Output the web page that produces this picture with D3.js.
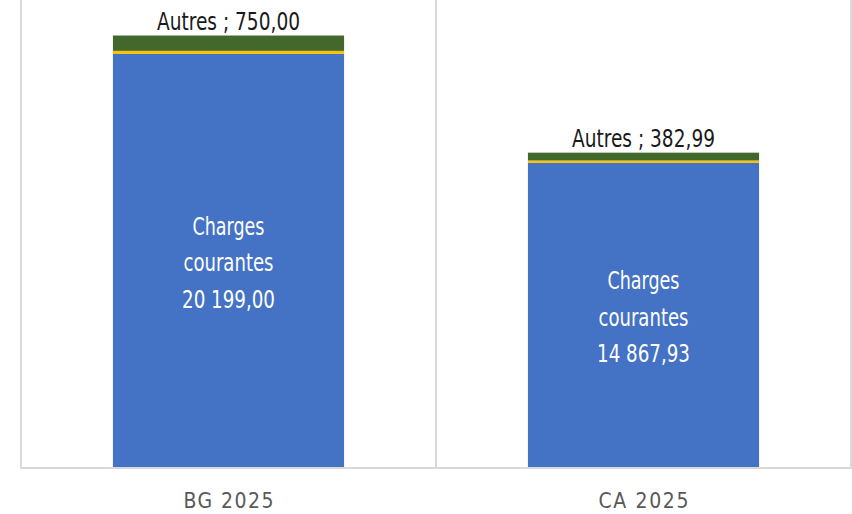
<!DOCTYPE html>
<html>
<head>
<meta charset="utf-8">
<script src="https://cdn.jsdelivr.net/npm/d3@7"></script>
<style>
  body { margin: 0; background: #fff; }
  svg text { font-family: 'Liberation Sans Narrow', 'DejaVu Sans Condensed', 'Liberation Sans', sans-serif; }
</style>
</head>
<body>
<svg class="chart-svg" width="852" height="514"></svg>
<script>
// chart values
const categories = ['BG 2025', 'CA 2025']
const seriesNames = ['Charges courantes', 'Divers', 'Autres']
const chargesCourantes = [20199.00, 14867.93]
const divers = [150, 120]
const autres = [750.00, 382.99]
const colors = ['#4472c4', '#ffc000', '#43682b']

const fmt = v => v.toLocaleString('fr-FR', { minimumFractionDigits: 2, maximumFractionDigits: 2 }).replace(/\u202f|\u00a0/g, ' ')

const rows = categories.map((c, i) => ({
  cat: c,
  'Charges courantes': chargesCourantes[i],
  Divers: divers[i],
  Autres: autres[i]
}))

const svg = d3.select('.chart-svg')
const left = 21
const right = 851
const baseY = 467

const xScale = d3.scaleBand()
  .domain(categories)
  .range([left, right])
  .paddingInner(0.443)
  .paddingOuter(0.2215)

const yScale = d3.scaleLinear()
  .domain([0, 22000])
  .range([baseY, baseY - 22000 * 0.02045])

const stack = d3.stack().keys(seriesNames)
const layers = stack(rows)

// vertical gridlines between categories
const edges = [left, left + xScale.step(), right]
svg.selectAll('.vgrid')
  .data(edges)
  .enter()
  .append('line')
  .attr('class', 'vgrid')
  .attr('x1', d => d).attr('x2', d => d)
  .attr('y1', 0).attr('y2', baseY + 1)
  .attr('stroke', '#d9d9d9')
  .attr('stroke-width', 2)

// bars
svg.selectAll('.layer')
  .data(layers)
  .enter()
  .append('g')
  .attr('class', 'layer')
  .attr('fill', (d, i) => colors[i])
  .selectAll('rect')
  .data(d => d)
  .enter()
  .append('rect')
  .attr('x', d => xScale(d.data.cat))
  .attr('y', d => yScale(d[1]))
  .attr('width', xScale.bandwidth())
  .attr('height', d => yScale(d[0]) - yScale(d[1]))

// baseline
svg.append('line')
  .attr('x1', left - 1).attr('x2', right + 1)
  .attr('y1', baseY + 1).attr('y2', baseY + 1)
  .attr('stroke', '#d9d9d9')
  .attr('stroke-width', 2)

// labels inside the blue segments
const inner = svg.selectAll('.inner-label')
  .data(layers[0])
  .enter()
  .append('g')
  .attr('class', 'inner-label')
  .attr('transform', d => `translate(${xScale(d.data.cat) + xScale.bandwidth() / 2},${(yScale(d[0]) + yScale(d[1])) / 2})`)

const lineTexts = d => [
  { t: 'Charges', w: 72 },
  { t: 'courantes', w: 90 },
  { t: fmt(d.data['Charges courantes']), w: 93 }
]
inner.selectAll('text')
  .data(d => lineTexts(d))
  .enter()
  .append('text')
  .attr('text-anchor', 'middle')
  .attr('fill', '#fff')
  .attr('font-size', 24)
  .attr('x', 0)
  .attr('y', (d, i) => (i - 1) * 36.5 + 11)
  .attr('textLength', d => d.w)
  .attr('lengthAdjust', 'spacingAndGlyphs')
  .text(d => d.t)

// "Autres" labels above the bars
svg.selectAll('.top-label')
  .data(layers[2])
  .enter()
  .append('text')
  .attr('class', 'top-label')
  .attr('text-anchor', 'middle')
  .attr('fill', '#1a1a1a')
  .attr('font-size', 24)
  .attr('x', d => xScale(d.data.cat) + xScale.bandwidth() / 2)
  .attr('y', d => yScale(d[1]) - 6)
  .attr('textLength', 143)
  .attr('lengthAdjust', 'spacingAndGlyphs')
  .text(d => `Autres ; ${fmt(d.data.Autres)}`)

// category labels
svg.selectAll('.x-label')
  .data(categories)
  .enter()
  .append('text')
  .attr('class', 'x-label')
  .attr('text-anchor', 'middle')
  .attr('fill', '#595959')
  .attr('font-size', 21)
  .attr('x', d => xScale(d) + xScale.bandwidth() / 2)
  .attr('y', 508)
  .attr('textLength', 90)
  .attr('lengthAdjust', 'spacing')
  .text(d => d)
</script>
</body>
</html>
